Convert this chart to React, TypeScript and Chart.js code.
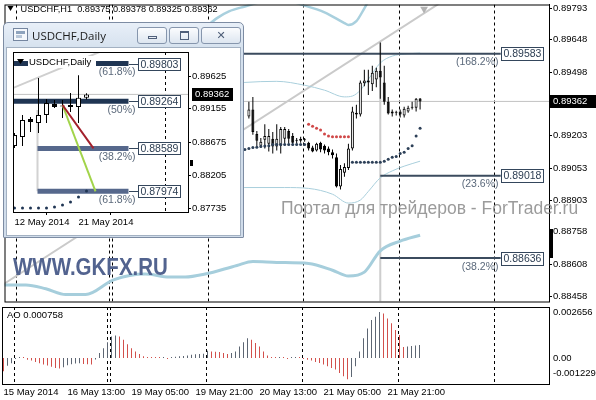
import React, { useEffect, useRef } from "react";
import { Chart, registerables } from "chart.js";

Chart.register(...registerables);

const FF = '"Liberation Sans", Arial, sans-serif';

/* ================= USDCHF,H1 (bar index 0 = 15 May 2014 21:00) ================= */
const h1Symbol = "USDCHF,H1";
const h1Idx = [61, 62, 63, 64, 65, 66, 67, 68, 69, 70, 71, 72, 73, 74, 75, 76, 77, 78, 79, 80, 81, 82, 83, 84, 85, 86, 87, 88, 89, 90, 91, 92, 93, 94, 95, 96, 97, 98, 99, 100, 101, 102, 103, 104];
const h1Open = [0.89292, 0.89324, 0.89211, 0.89157, 0.89184, 0.89166, 0.89189, 0.89153, 0.89157, 0.89189, 0.89225, 0.89202, 0.89184, 0.8918, 0.89184, 0.89171, 0.89148, 0.89135, 0.89171, 0.89157, 0.89144, 0.89126, 0.89103, 0.88968, 0.89031, 0.89053, 0.89144, 0.8931, 0.89301, 0.89446, 0.89459, 0.89441, 0.89464, 0.89504, 0.8945, 0.8936, 0.89315, 0.8931, 0.89315, 0.89297, 0.89315, 0.89333, 0.89333, 0.89375];
const h1High = [0.8936, 0.89383, 0.89225, 0.89193, 0.89256, 0.89234, 0.8922, 0.89256, 0.89243, 0.89243, 0.89234, 0.89216, 0.89193, 0.89198, 0.89193, 0.89175, 0.89157, 0.89171, 0.89175, 0.89162, 0.89153, 0.89139, 0.89121, 0.89067, 0.89076, 0.89166, 0.89337, 0.89346, 0.89459, 0.89509, 0.89509, 0.89527, 0.89518, 0.89635, 0.89527, 0.89383, 0.89324, 0.89319, 0.89324, 0.89337, 0.89342, 0.8936, 0.89378, 0.89378];
const h1Low = [0.89283, 0.89207, 0.89153, 0.89148, 0.89144, 0.8913, 0.89121, 0.89135, 0.89121, 0.89166, 0.89166, 0.89157, 0.89166, 0.89171, 0.89175, 0.89135, 0.89126, 0.8913, 0.89126, 0.89121, 0.89112, 0.89098, 0.88963, 0.88954, 0.89013, 0.89044, 0.89135, 0.89283, 0.89292, 0.89432, 0.89392, 0.8941, 0.89428, 0.89374, 0.89346, 0.89301, 0.89292, 0.89297, 0.89288, 0.89288, 0.8931, 0.89324, 0.89315, 0.89325];
const h1Close = [0.89324, 0.8922, 0.8918, 0.89175, 0.89202, 0.89202, 0.89153, 0.89189, 0.89234, 0.89234, 0.89189, 0.89171, 0.8918, 0.89189, 0.89182, 0.89144, 0.8913, 0.89166, 0.89139, 0.89135, 0.89126, 0.89112, 0.88968, 0.89049, 0.89058, 0.89144, 0.89315, 0.89301, 0.8945, 0.89459, 0.8945, 0.89495, 0.89504, 0.89473, 0.8936, 0.89306, 0.89306, 0.89311, 0.89301, 0.89328, 0.89333, 0.89337, 0.89374, 0.89362];

const h1Min = 0.88435;
const h1Max = 0.89811;
const h1XMin = -0.375;
const h1XMax = 136.375;
const h1PriceTicks = [0.89793, 0.89648, 0.89498, 0.89203, 0.89053, 0.88903, 0.88758, 0.88608, 0.88458];
const h1Separators = [3, 26.25, 27, 51, 75, 99, 123];
const h1TimeIdx = [0, 16, 32, 48, 64, 80, 96];
const h1TimeLabels = ["15 May 2014", "16 May 13:00", "19 May 05:00", "19 May 21:00", "20 May 13:00", "21 May 05:00", "21 May 21:00"];

// Parabolic SAR
const sarAboveIdx = [76, 77, 78, 79, 80, 81, 82, 83, 84, 85, 86];
const sarAboveVal = [0.89256, 0.89247, 0.89238, 0.89229, 0.89211, 0.89202, 0.89198, 0.89198, 0.89198, 0.89198, 0.89198];
const sarBelowIdx = [60, 61, 62, 63, 64, 65, 66, 67, 68, 69, 70, 71, 72, 73, 74, 75, 87, 88, 89, 90, 91, 92, 93, 94, 95, 96, 97, 98, 99, 100, 101, 102, 103, 104];
const sarBelowVal = [0.89139, 0.89144, 0.89148, 0.8915, 0.89153, 0.89155, 0.89157, 0.89162, 0.89162, 0.89162, 0.89162, 0.89162, 0.89162, 0.89162, 0.89162, 0.89162, 0.8908, 0.8908, 0.8908, 0.8908, 0.8908, 0.8908, 0.8908, 0.8908, 0.89085, 0.89094, 0.89103, 0.89107, 0.89121, 0.89126, 0.89144, 0.89157, 0.89202, 0.89238];

// Bands
const outerUpperIdx = [50, 53, 56, 60, 64, 70, 75, 80, 85, 86, 88, 90, 92, 104];
const outerUpperVal = [0.89703, 0.89748, 0.89779, 0.89802, 0.89822, 0.89829, 0.89806, 0.89775, 0.89725, 0.89716, 0.89734, 0.89793, 0.89856, 0.89991];
const innerUpperIdx = [55, 60, 68, 75, 80, 85, 87, 89, 91, 94, 97, 100, 104];
const innerUpperVal = [0.89441, 0.8945, 0.89455, 0.89437, 0.89414, 0.89383, 0.89387, 0.89414, 0.89464, 0.8954, 0.89572, 0.89581, 0.89586];
const innerLowerIdx = [55, 60, 70, 76, 82, 86, 89, 91, 94, 97, 100, 104];
const innerLowerVal = [0.88963, 0.88963, 0.88963, 0.88959, 0.88932, 0.88891, 0.88905, 0.88945, 0.89008, 0.8904, 0.89062, 0.89085];
const outerLowerIdx = [-1, 5, 10, 15, 20, 27, 35, 41, 45, 50, 58, 62, 68, 76, 82, 86, 90, 94, 99, 104];
const outerLowerVal = [0.88512, 0.88512, 0.88494, 0.88467, 0.88467, 0.88535, 0.88562, 0.88548, 0.88548, 0.88562, 0.88602, 0.8862, 0.88616, 0.88611, 0.8858, 0.88553, 0.88571, 0.8867, 0.88715, 0.88742];

// Trend line, swing bar, fibo expansion
const trendIdx = [-1, 109];
const trendVal = [0.88511, 0.89818];
const swingIdx = 94;
const markerIdx = 105;
const markerVal = 0.8979;
const fiboPrices = [0.89583, 0.89018, 0.88636];
const fiboPct = ["168.2%", "23.6%", "38.2%"];
const fiboStart = [40, 94, 94];
const fiboEnd = 124.25;

/* ================= Awesome Oscillator ================= */
const aoValues = [
  -0.00076, -0.00045, -0.0003, -0.00005, 0.00002, 0.00001,
  -0.0001, -0.00015, -0.00023, -0.0003, -0.00038, -0.00044, -0.0005, -0.00057, -0.00061,
  -0.00053, -0.00042, -0.00036, -0.00032, -0.0003,
  -0.00034, -0.00036, -0.00038, -0.00008,
  0.00029, 0.00057, 0.00091, 0.00124, 0.0013,
  0.00124, 0.00105, 0.0008, 0.00057, 0.00038, 0.00023, 0.0001,
  0.00003, 0.00002, 0.00001, 0.00001, 0.00002, -0.00002,
  0.00004, 0.00007, 0.0001, 0.00012, 0.00015, 0.00019, 0.00021, 0.00023, 0.00025,
  0.00042, 0.00038, 0.00036, 0.00034, 0.00029, 0.00023,
  0.00029, 0.00038, 0.00067, 0.00091, 0.00114,
  0.00105, 0.00086, 0.00067, 0.00038, 0.00015,
  0.00004, 0.00001, 0.00002, 0.00001, -0.00001, 0.00001, 0.00002, 0.00001, -0.00003,
  -0.000095, -0.00015, -0.00023, -0.00029, -0.00038, -0.00048, -0.00057, -0.00067, -0.00086, -0.00105, -0.001229,
  -0.0011, -0.00048, 0.00038, 0.00114, 0.00171, 0.00219, 0.00238, 0.002656,
  0.00257, 0.00228, 0.002, 0.00162, 0.00133,
  0.00064, 0.00066, 0.00069, 0.00072, 0.000758,
];
const aoMin = -0.001501;
const aoMax = 0.002945;
const aoAxisVals = [0.002656, 0, -0.001229];
const aoAxisLabels = ["0.002656", "0.00", "-0.001229"];

/* ================= USDCHF,Daily (inset) ================= */
const dSymbol = "USDCHF,Daily";
const dIdx = [0, 1, 2, 3, 4, 5, 6, 7, 8, 9];
const dOpen = [0.88623, 0.88752, 0.89009, 0.88952, 0.89067, 0.89224, 0.89195, 0.8921, 0.89181, 0.89315];
const dHigh = [0.88809, 0.89067, 0.89038, 0.89596, 0.89296, 0.89281, 0.89281, 0.89382, 0.89635, 0.89378];
const dLow = [0.88595, 0.88623, 0.88823, 0.88809, 0.88952, 0.89167, 0.89024, 0.89109, 0.88954, 0.89288];
const dClose = [0.8878, 0.88995, 0.88966, 0.89067, 0.89238, 0.89181, 0.8919, 0.89181, 0.89315, 0.89362];
const dSar = [0.87735, 0.87735, 0.87735, 0.87735, 0.87735, 0.87749, 0.87778, 0.87821, 0.87892, 0.87978];
const dMin = 0.87678;
const dMax = 0.89969;
const dXMin = -0.1875;
const dXMax = 21.6875;
const dPriceTicks = [0.89625, 0.89155, 0.88675, 0.88205, 0.87735];
const dTimeIdx = [0, 8];
const dTimeLabels = ["12 May 2014", "21 May 2014"];
const dSeparators = [19];
const dFiboPrices = [0.89803, 0.89264, 0.88589, 0.87974];
const dFiboPct = ["61.8%", "50%", "38.2%", "61.8%"];
const dFiboStart = [-1, -1, 2.875, 2.875];
const dFiboEnd = 14.25;
const dRedIdx = [6, 9.875];
const dRedVal = [0.8921, 0.88589];
const dGreenIdx = [6, 10.125];
const dGreenVal = [0.8921, 0.87974];
const dVertIdx = 2.875;
const dVertVal = [0.89138, 0.87974];
const dTrendIdx = [-1, 12];
const dTrendVal = [0.89415, 0.90034];

/* ================= helpers ================= */
const lastOf = (a: number[]) => a[a.length - 1];

function candleSets(idx: number[], o: number[], h: number[], l: number[], c: number[], bodyW: number, order: number) {
  return [
    {
      type: "bar",
      data: idx.map((x, k) => ({ x, y: [l[k], h[k]] })),
      backgroundColor: "#000000",
      borderWidth: 0,
      barThickness: 1,
      grouped: false,
      minBarLength: 1,
      inflateAmount: 0,
      order: order + 1,
    },
    {
      type: "bar",
      data: idx.map((x, k) => ({ x, y: [o[k], c[k]] })),
      backgroundColor: idx.map((_, k) => (c[k] >= o[k] ? "#ffffff" : "#000000")),
      borderColor: "#000000",
      borderWidth: 1,
      borderSkipped: false,
      barThickness: bodyW,
      grouped: false,
      minBarLength: 1,
      inflateAmount: 0,
      order,
    },
  ];
}

function lineSet(idx: number[], vals: number[], color: string, width: number, order: number, straight = false) {
  return {
    type: "line",
    data: idx.map((x, k) => ({ x, y: vals[k] })),
    borderColor: color,
    borderWidth: width,
    pointRadius: 0,
    pointHoverRadius: 0,
    fill: false,
    clip: 0,
    borderCapStyle: "butt",
    cubicInterpolationMode: straight ? "default" : "monotone",
    tension: 0,
    order,
  };
}

function dotSet(idx: number[], vals: number[], color: string, r: number, order: number, extra: any = {}) {
  return {
    type: "scatter",
    data: idx.map((x, k) => ({ x, y: vals[k] })),
    backgroundColor: color,
    borderWidth: 0,
    pointRadius: r,
    pointHoverRadius: r,
    order,
    ...extra,
  };
}

function drawSeparators(chart: any, list: number[]) {
  const { ctx, chartArea: a, scales } = chart;
  ctx.save();
  ctx.beginPath();
  ctx.rect(a.left, a.top, a.right - a.left, a.bottom - a.top);
  ctx.clip();
  ctx.strokeStyle = "#000";
  ctx.lineWidth = 1;
  ctx.setLineDash([3, 3]);
  for (const s of list) {
    const px = Math.floor(scales.x.getPixelForValue(s)) - 0.5;
    ctx.beginPath();
    ctx.moveTo(px, a.top);
    ctx.lineTo(px, a.bottom);
    ctx.stroke();
  }
  ctx.restore();
}

function drawFiboLabel(ctx: any, xEnd: number, gap: number, y: number, price: number, pct: string, boxH: number, fontPx: number) {
  const x0 = Math.round(xEnd);
  const bx = x0 + gap + 0.5;
  const by = Math.round(y - boxH / 2) + 0.5;
  if (gap > 0) {
    ctx.strokeStyle = "#34465c";
    ctx.lineWidth = 1;
    ctx.beginPath();
    ctx.moveTo(x0, Math.round(y) + 0.5);
    ctx.lineTo(bx, Math.round(y) + 0.5);
    ctx.stroke();
  }
  ctx.fillStyle = "#ffffff";
  ctx.fillRect(bx, by, 42, boxH);
  ctx.strokeStyle = "#34465c";
  ctx.lineWidth = 1;
  ctx.strokeRect(bx, by, 42, boxH);
  ctx.font = `${fontPx}px ${FF}`;
  ctx.textBaseline = "middle";
  ctx.textAlign = "left";
  ctx.fillStyle = "#2c3d52";
  ctx.fillText(price.toFixed(5), bx + 2, by + boxH / 2 + 0.5);
  ctx.textAlign = "right";
  ctx.fillStyle = "#5b697b";
  ctx.fillText(`(${pct})`, bx - 3, y + 8.5);
}

function drawPriceBox(ctx: any, x: number, w: number, y: number, price: number) {
  ctx.fillStyle = "#000";
  ctx.fillRect(x, Math.round(y) - 6, w, 13);
  ctx.fillStyle = "#fff";
  ctx.font = `9.5px ${FF}`;
  ctx.textAlign = "left";
  ctx.textBaseline = "middle";
  ctx.fillText(price.toFixed(5), x + 3, Math.round(y) + 0.5);
}

/* ================= plugins ================= */
const mainPlugin = {
  id: "mainDeco",
  beforeDatasetsDraw(chart: any) {
    drawSeparators(chart, h1Separators);
  },
  afterDatasetsDraw(chart: any) {
    const { ctx, chartArea: a, scales } = chart;
    ctx.save();
    for (let k = 0; k < fiboPrices.length; k++) {
      drawFiboLabel(ctx, scales.x.getPixelForValue(fiboEnd), 0, scales.y.getPixelForValue(fiboPrices[k]), fiboPrices[k], fiboPct[k], 13, 10.5);
    }
    ctx.fillStyle = "#000";
    ctx.beginPath();
    ctx.moveTo(a.left + 3, 6);
    ctx.lineTo(a.left + 9, 6);
    ctx.lineTo(a.left + 6, 11);
    ctx.closePath();
    ctx.fill();
    ctx.font = `9.2px ${FF}`;
    ctx.textAlign = "left";
    ctx.textBaseline = "middle";
    const hdr = `${h1Symbol}  ${lastOf(h1Open).toFixed(5)} ${lastOf(h1High).toFixed(5)} ${lastOf(h1Low).toFixed(5)} ${lastOf(h1Close).toFixed(5)}`;
    ctx.fillText(hdr, a.left + 16, 9.5);
    ctx.restore();
  },
  afterDraw(chart: any) {
    const { ctx, chartArea: a, scales } = chart;
    ctx.save();
    ctx.strokeStyle = "#000";
    ctx.lineWidth = 1;
    ctx.strokeRect(a.left + 0.5, a.top + 0.5, a.right - a.left, a.bottom - a.top);
    drawPriceBox(ctx, a.right + 1, 46, scales.y.getPixelForValue(lastOf(h1Close)), lastOf(h1Close));
    ctx.fillStyle = "#000";
    ctx.fillRect(a.right + 1, 229, 3, 29);
    ctx.restore();
  },
};

const aoPlugin = {
  id: "aoDeco",
  beforeDatasetsDraw(chart: any) {
    drawSeparators(chart, h1Separators);
  },
  afterDraw(chart: any) {
    const { ctx, chartArea: a, scales } = chart;
    ctx.save();
    ctx.strokeStyle = "#000";
    ctx.lineWidth = 1;
    ctx.strokeRect(a.left + 0.5, a.top + 0.5, a.right - a.left, a.bottom - a.top);
    ctx.font = `9.5px ${FF}`;
    ctx.fillStyle = "#000";
    ctx.textBaseline = "middle";
    ctx.textAlign = "left";
    ctx.fillText(`AO ${lastOf(aoValues).toFixed(6)}`, a.left + 5, a.top + 8);
    for (let k = 0; k < aoAxisVals.length; k++) {
      const py = Math.max(a.top + 4, Math.min(scales.y.getPixelForValue(aoAxisVals[k]), a.bottom - 11));
      ctx.fillText(aoAxisLabels[k], a.right + 4, py);
    }
    ctx.restore();
  },
};

const dailyPlugin = {
  id: "dailyDeco",
  beforeDatasetsDraw(chart: any) {
    drawSeparators(chart, dSeparators);
  },
  afterDatasetsDraw(chart: any) {
    const { ctx, chartArea: a, scales } = chart;
    ctx.save();
    for (let k = 0; k < dFiboPrices.length; k++) {
      drawFiboLabel(ctx, scales.x.getPixelForValue(dFiboEnd), 9, scales.y.getPixelForValue(dFiboPrices[k]), dFiboPrices[k], dFiboPct[k], 12, 10.5);
    }
    ctx.fillStyle = "#fff";
    ctx.fillRect(a.left + 15, a.top + 4, 68, 12);
    ctx.fillStyle = "#000";
    ctx.beginPath();
    ctx.moveTo(a.left + 4, a.top + 7);
    ctx.lineTo(a.left + 11, a.top + 7);
    ctx.lineTo(a.left + 7.5, a.top + 12);
    ctx.closePath();
    ctx.fill();
    ctx.font = `9.5px ${FF}`;
    ctx.textAlign = "left";
    ctx.textBaseline = "middle";
    ctx.fillText(dSymbol, a.left + 16, a.top + 10.5);
    ctx.restore();
  },
  afterDraw(chart: any) {
    const { ctx, chartArea: a, scales } = chart;
    ctx.save();
    ctx.strokeStyle = "#000";
    ctx.lineWidth = 1;
    ctx.strokeRect(a.left + 0.5, a.top + 0.5, a.right - a.left, a.bottom - a.top);
    drawPriceBox(ctx, a.right + 4, 41, scales.y.getPixelForValue(lastOf(dClose)), lastOf(dClose));
    ctx.fillStyle = "#000";
    ctx.fillRect(a.right + 2, 112, 3, 6);
    ctx.restore();
  },
};

/* ================= configs ================= */
const tickFont = { family: "Liberation Sans", size: 9.5 };

function mainConfig(): any {
  const last = lastOf(h1Close);
  const swingHigh = h1High[h1Idx.indexOf(swingIdx)];
  const datasets: any[] = [
    lineSet([h1XMin, h1XMax], [last, last], "#c2c2c2", 1, 10, true),
    lineSet(trendIdx, trendVal, "#cacaca", 2, 9, true),
    lineSet([swingIdx, swingIdx], [h1Min, swingHigh], "#cdcdcd", 2, 9, true),
    lineSet(outerUpperIdx, outerUpperVal, "#a9d0de", 2.5, 8),
    lineSet(innerUpperIdx, innerUpperVal, "#a9cfdc", 1, 8),
    lineSet(innerLowerIdx, innerLowerVal, "#a9cfdc", 1, 8),
    lineSet(outerLowerIdx, outerLowerVal, "#a6cedc", 3, 8),
    ...fiboPrices.map((p, k) => lineSet([fiboStart[k], fiboEnd], [p, p], "#3b4b5e", 2, 7, true)),
    ...candleSets(h1Idx, h1Open, h1High, h1Low, h1Close, 3, 3),
    dotSet(sarAboveIdx, sarAboveVal, "#d04848", 1.5, 1),
    dotSet(sarBelowIdx, sarBelowVal, "#2d4058", 1.5, 1),
    dotSet([markerIdx], [markerVal], "#b3b3b3", 4.5, 1, { pointStyle: "triangle", rotation: 180 }),
  ];
  return {
    type: "bar",
    data: { datasets },
    options: {
      animation: false,
      responsive: false,
      devicePixelRatio: 1,
      events: [],
      layout: { padding: { left: 2, top: 0, right: 0, bottom: 1 } },
      plugins: { legend: { display: false }, tooltip: { enabled: false } },
      scales: {
        x: { type: "linear", display: false, min: h1XMin, max: h1XMax, offset: false },
        y: {
          type: "linear",
          position: "right",
          min: h1Min,
          max: h1Max,
          afterBuildTicks: (s: any) => {
            s.ticks = h1PriceTicks.map((v) => ({ value: v }));
          },
          afterFit: (s: any) => {
            s.width = 47;
            s.paddingTop = 0;
            s.paddingBottom = 0;
          },
          grid: { drawOnChartArea: false, drawTicks: true, tickLength: 3, color: "#000" },
          border: { display: true, color: "#000" },
          ticks: { autoSkip: false, padding: 1, color: "#000", font: tickFont, callback: (v: any) => Number(v).toFixed(5) },
        },
      },
    },
    plugins: [mainPlugin],
  };
}

function aoBarSet(rising: boolean, color: string) {
  const pts = aoValues
    .map((v, i) => ({ x: i, y: v, up: i > 0 && v > aoValues[i - 1] }))
    .filter((p) => p.up === rising)
    .map((p) => ({ x: p.x, y: p.y }));
  return {
    type: "bar",
    data: pts,
    backgroundColor: color,
    borderWidth: 0,
    barThickness: 1,
    minBarLength: 1,
    inflateAmount: 0,
    grouped: false,
  };
}

function aoConfig(): any {
  return {
    type: "bar",
    data: {
      datasets: [aoBarSet(true, "#5d6673"), aoBarSet(false, "#d2504c")],
    },
    options: {
      animation: false,
      responsive: false,
      devicePixelRatio: 1,
      events: [],
      layout: { padding: { left: 2, top: 1, right: 47, bottom: 0 } },
      plugins: { legend: { display: false }, tooltip: { enabled: false } },
      scales: {
        x: {
          type: "linear",
          position: "bottom",
          min: h1XMin,
          max: h1XMax,
          offset: false,
          afterBuildTicks: (s: any) => {
            s.ticks = h1TimeIdx.map((v) => ({ value: v }));
          },
          afterFit: (s: any) => {
            s.height = 16;
            s.paddingLeft = 0;
            s.paddingRight = 0;
          },
          grid: { display: false, drawTicks: false },
          border: { display: false },
          ticks: {
            autoSkip: false,
            maxRotation: 0,
            minRotation: 0,
            align: "start",
            padding: 3,
            color: "#000",
            font: tickFont,
            callback: (v: any) => h1TimeLabels[h1TimeIdx.indexOf(Number(v))] ?? "",
          },
        },
        y: { type: "linear", display: false, min: aoMin, max: aoMax },
      },
    },
    plugins: [aoPlugin],
  };
}

function dailyConfig(): any {
  const last = lastOf(dClose);
  const datasets: any[] = [
    lineSet([dXMin, dXMax], [last, last], "#c2c2c2", 1, 10, true),
    lineSet(dTrendIdx, dTrendVal, "#cfcfcf", 2, 9, true),
    lineSet([dVertIdx, dVertIdx], dVertVal, "#d2d2d2", 2, 9, true),
    ...dFiboPrices.map((p, k) => lineSet([dFiboStart[k], dFiboEnd], [p, p], k < 2 ? "#1f3553" : "#56688c", 5, 7, true)),
    ...candleSets(dIdx, dOpen, dHigh, dLow, dClose, 5, 4),
    lineSet(dRedIdx, dRedVal, "#a3202c", 2, 2, true),
    lineSet(dGreenIdx, dGreenVal, "#a2d44a", 2, 2, true),
    dotSet(dIdx, dSar, "#1f3553", 1.5, 1),
  ];
  return {
    type: "bar",
    data: { datasets },
    options: {
      animation: false,
      responsive: false,
      devicePixelRatio: 1,
      events: [],
      layout: { padding: { left: 6, top: 4, right: 0, bottom: 0 } },
      plugins: { legend: { display: false }, tooltip: { enabled: false } },
      scales: {
        x: {
          type: "linear",
          position: "bottom",
          min: dXMin,
          max: dXMax,
          offset: false,
          afterBuildTicks: (s: any) => {
            s.ticks = dTimeIdx.map((v) => ({ value: v }));
          },
          afterFit: (s: any) => {
            s.height = 23;
            s.paddingLeft = 0;
            s.paddingRight = 0;
          },
          grid: { display: true, drawOnChartArea: false, drawTicks: true, tickLength: 3, color: "#000" },
          border: { display: false },
          ticks: {
            autoSkip: false,
            maxRotation: 0,
            minRotation: 0,
            align: "start",
            padding: 2,
            color: "#000",
            font: tickFont,
            callback: (v: any) => dTimeLabels[dTimeIdx.indexOf(Number(v))] ?? "",
          },
        },
        y: {
          type: "linear",
          position: "right",
          min: dMin,
          max: dMax,
          afterBuildTicks: (s: any) => {
            s.ticks = dPriceTicks.map((v) => ({ value: v }));
          },
          afterFit: (s: any) => {
            s.width = 52;
            s.paddingTop = 0;
            s.paddingBottom = 0;
          },
          grid: { drawOnChartArea: false, drawTicks: true, tickLength: 3, color: "#000" },
          border: { display: false },
          ticks: { autoSkip: false, padding: 1, color: "#000", font: tickFont, callback: (v: any) => Number(v).toFixed(5) },
        },
      },
    },
    plugins: [dailyPlugin],
  };
}

/* ================= component ================= */
const btn: React.CSSProperties = {
  position: "absolute",
  top: 4,
  height: 17,
  boxSizing: "border-box",
  border: "1px solid #8696ad",
  borderRadius: 3,
  background: "linear-gradient(#fbfcfe, #dde6f0)",
};

export default function App() {
  const mainRef = useRef<HTMLCanvasElement>(null);
  const aoRef = useRef<HTMLCanvasElement>(null);
  const dRef = useRef<HTMLCanvasElement>(null);

  useEffect(() => {
    const charts = [
      new Chart(mainRef.current as HTMLCanvasElement, mainConfig()),
      new Chart(aoRef.current as HTMLCanvasElement, aoConfig()),
      new Chart(dRef.current as HTMLCanvasElement, dailyConfig()),
    ];
    return () => charts.forEach((c) => c.destroy());
  }, []);

  return (
    <div style={{ position: "absolute", left: 0, top: 0, width: 596, height: 400, background: "#fff", overflow: "hidden" }}>
      <canvas ref={mainRef} width={596} height={306} style={{ position: "absolute", left: 0, top: 0 }} />
      <canvas ref={aoRef} width={596} height={94} style={{ position: "absolute", left: 0, top: 306 }} />

      <div
        style={{
          position: "absolute",
          left: 13,
          top: 253,
          fontFamily: FF,
          fontWeight: 700,
          fontSize: 20.5,
          lineHeight: "24px",
          color: "#52638f",
          transform: "scaleY(1.15)",
          transformOrigin: "top left",
          whiteSpace: "nowrap",
        }}
      >
        WWW.GKFX.RU
      </div>
      <div
        style={{
          position: "absolute",
          left: 281,
          top: 198,
          fontFamily: FF,
          fontSize: 17.5,
          lineHeight: "20px",
          color: "rgba(130,130,130,0.8)",
          whiteSpace: "nowrap",
        }}
      >
        Портал для трейдеров - ForTrader.ru
      </div>

      <div
        style={{
          position: "absolute",
          left: 3,
          top: 22,
          width: 241,
          height: 216,
          boxSizing: "border-box",
          border: "1px solid #7d8ca3",
          borderRadius: "5px 5px 1px 1px",
          background: "linear-gradient(#e8eff8, #d5e1ee 26px, #d0dcea)",
        }}
      >
        <div
          style={{
            position: "absolute",
            left: 9,
            top: 5,
            width: 15,
            height: 13,
            boxSizing: "border-box",
            border: "1px solid #7586a0",
            background: "#f5f8fc",
          }}
        >
          <div style={{ position: "absolute", left: 2, top: 2, width: 9, height: 3, background: "#8ea3bd" }} />
          <div style={{ position: "absolute", left: 2, top: 6, width: 6, height: 3, background: "#b7c6d8" }} />
        </div>
        <div
          style={{
            position: "absolute",
            left: 28,
            top: 3,
            fontFamily: '"Open Sans", sans-serif',
            fontSize: 11.5,
            lineHeight: "20px",
            color: "#1b1b1b",
            whiteSpace: "nowrap",
          }}
        >
          {dSymbol}
        </div>
        <div style={{ ...btn, left: 133, width: 30 }}>
          <div style={{ position: "absolute", left: 10, top: 8, width: 9, height: 3, boxSizing: "border-box", border: "1px solid #4f5f7a" }} />
        </div>
        <div style={{ ...btn, left: 165, width: 30 }}>
          <div
            style={{
              position: "absolute",
              left: 10,
              top: 3,
              width: 9,
              height: 9,
              boxSizing: "border-box",
              border: "1px solid #4f5f7a",
              borderTopWidth: 2,
            }}
          />
        </div>
        <div style={{ ...btn, left: 197, width: 40, textAlign: "center", fontFamily: '"DejaVu Sans", sans-serif', fontSize: 11, lineHeight: "15px", color: "#4d5d77" }}>
          ✕
        </div>
        <div
          style={{
            position: "absolute",
            left: 2,
            top: 24,
            width: 235,
            height: 189,
            boxSizing: "border-box",
            border: "1px solid #a3b1c2",
            background: "#fff",
          }}
        >
          <canvas ref={dRef} width={233} height={187} style={{ display: "block" }} />
        </div>
      </div>
    </div>
  );
}
